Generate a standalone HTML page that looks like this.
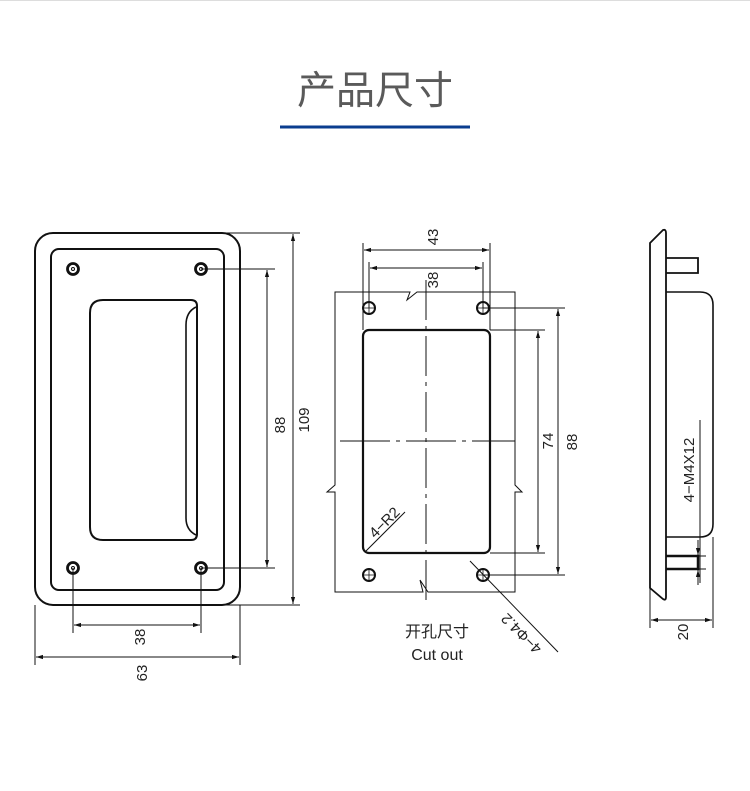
<!DOCTYPE html>
<html><head><meta charset="utf-8"><style>
body{margin:0;background:#fff;width:750px;height:791px;overflow:hidden}
svg{display:block}
text{font-family:"Liberation Sans",sans-serif;fill:#222}
</style></head><body>
<svg width="750" height="791" viewBox="0 0 750 791" xmlns="http://www.w3.org/2000/svg">
<defs>
<marker id="a" viewBox="0 0 10 10" refX="10" refY="5" markerWidth="7" markerHeight="7" orient="auto-start-reverse"><path d="M0,2 L10,5 L0,8 z" fill="#111"/></marker>
</defs>
<line x1="0" y1="0.5" x2="750" y2="0.5" stroke="#ddd"/>
<text x="375" y="104" text-anchor="middle" font-size="39" style="font-family:'Liberation Sans','Noto Sans CJK SC',sans-serif;fill:#5a5a5a">产品尺寸</text>
<rect x="280" y="125.5" width="190" height="3" fill="#0b3d8f"/>

<g fill="none" stroke="#111">
<!-- left view -->
<rect x="35" y="233" width="205" height="372" rx="18" stroke-width="2"/>
<rect x="51" y="249" width="173" height="341" rx="8" stroke-width="2"/>
<g stroke-width="2.8"><circle cx="73" cy="269" r="5.5"/><circle cx="201" cy="269" r="5.5"/><circle cx="73" cy="568" r="5.5"/><circle cx="201" cy="568" r="5.5"/></g>
<g stroke-width="1"><circle cx="73" cy="269" r="1.5"/><circle cx="201" cy="269" r="1.5"/><circle cx="73" cy="568" r="1.5"/><circle cx="201" cy="568" r="1.5"/></g>
<path d="M103,300 H191 Q197,300 197,306 V534 Q197,540 191,540 H103 Q90,540 90,527 V313 Q90,300 103,300 Z" stroke-width="2"/>
<path d="M196,307 Q186,312 186,325 V518 Q186,530 196,535" stroke-width="1.6"/>
<g stroke-width="1">
<line x1="201" y1="269" x2="275" y2="269"/><line x1="201" y1="568" x2="275" y2="568"/>
<line x1="267" y1="270" x2="267" y2="567" marker-start="url(#a)" marker-end="url(#a)"/>
<line x1="224" y1="233" x2="300" y2="233"/><line x1="224" y1="605" x2="300" y2="605"/>
<line x1="293" y1="234" x2="293" y2="604" marker-start="url(#a)" marker-end="url(#a)"/>
<line x1="73" y1="568" x2="73" y2="633"/><line x1="201" y1="568" x2="201" y2="633"/>
<line x1="74" y1="625" x2="200" y2="625" marker-start="url(#a)" marker-end="url(#a)"/>
<line x1="35" y1="605" x2="35" y2="665"/><line x1="240" y1="605" x2="240" y2="665"/>
<line x1="36" y1="657" x2="239" y2="657" marker-start="url(#a)" marker-end="url(#a)"/>
</g>

<!-- middle view -->
<g stroke-width="1">
<path d="M335,292 H410 L407,300 L417,292 H515 V485 L522,492 L515,492 V592 H428 L420,580 L423,592 H335 V492 L327,492 L335,485 Z"/>
<line x1="426" y1="280" x2="426" y2="600" stroke-dasharray="40,6,4,6"/>
<line x1="340" y1="441" x2="515" y2="441" stroke-dasharray="50,6,4,6"/>
<line x1="363" y1="243" x2="363" y2="330"/><line x1="490" y1="243" x2="490" y2="330"/>
<line x1="364" y1="250" x2="489" y2="250" marker-start="url(#a)" marker-end="url(#a)"/>
<line x1="369" y1="262" x2="369" y2="308"/><line x1="483" y1="262" x2="483" y2="308"/>
<line x1="370" y1="268" x2="482" y2="268" marker-start="url(#a)" marker-end="url(#a)"/>
<line x1="490" y1="330" x2="545" y2="330"/><line x1="490" y1="553" x2="545" y2="553"/>
<line x1="538" y1="331" x2="538" y2="552" marker-start="url(#a)" marker-end="url(#a)"/>
<line x1="483" y1="308" x2="565" y2="308"/><line x1="483" y1="575" x2="565" y2="575"/>
<line x1="558" y1="309" x2="558" y2="574" marker-start="url(#a)" marker-end="url(#a)"/>
<line x1="470" y1="561" x2="558" y2="652"/>
<line x1="366" y1="551" x2="405" y2="512"/>
</g>
<rect x="363" y="330" width="127" height="223" rx="6" stroke-width="2.2"/>
<g stroke-width="2"><circle cx="369" cy="308" r="6"/><circle cx="483" cy="308" r="6"/><circle cx="369" cy="575" r="6"/><circle cx="483" cy="575" r="6"/></g>
<g stroke-width="0.8"><path d="M362,308H376M369,301V315M476,308H490M483,301V315M362,575H376M369,568V582M476,575H490M483,568V582"/></g>

<!-- right view -->
<path d="M650,243 L663,230 Q666,229 666,233 V597 Q666,601 663,599 L650,588 Z" stroke-width="1.8"/>
<path d="M666,258 H698 V273 H666" stroke-width="1.8"/>
<path d="M666,292 H700 Q713,292 713,305 V524 Q713,537 700,537 H666" stroke-width="1.6"/>
<path d="M666,556 H698 V569 H666" stroke-width="2.5"/>
<g stroke-width="1">
<line x1="700" y1="420" x2="700" y2="583"/>
<line x1="698" y1="556" x2="706" y2="556"/><line x1="698" y1="569" x2="706" y2="569"/>
<line x1="698" y1="540" x2="698" y2="555" marker-end="url(#a)"/>
<line x1="698" y1="585" x2="698" y2="570" marker-end="url(#a)"/>
<line x1="650" y1="588" x2="650" y2="628"/><line x1="713" y1="537" x2="713" y2="628"/>
<line x1="651" y1="620" x2="712" y2="620" marker-start="url(#a)" marker-end="url(#a)"/>
</g>
</g>

<g font-size="15">
<text transform="translate(285,425) rotate(-90)" text-anchor="middle">88</text>
<text transform="translate(309,420) rotate(-90)" text-anchor="middle">109</text>
<text transform="translate(145,637) rotate(-90)" text-anchor="middle">38</text>
<text transform="translate(147,673) rotate(-90)" text-anchor="middle">63</text>
<text transform="translate(438,237) rotate(-90)" text-anchor="middle">43</text>
<text transform="translate(438,280) rotate(-90)" text-anchor="middle">38</text>
<text transform="translate(553,441) rotate(-90)" text-anchor="middle">74</text>
<text transform="translate(577,442) rotate(-90)" text-anchor="middle">88</text>
<text transform="translate(388,526) rotate(-45)" text-anchor="middle">4−R2</text>
<text transform="translate(525,630) rotate(225)" text-anchor="middle">4−Φ4.2</text>
<text transform="translate(694,470) rotate(-90)" text-anchor="middle">4−M4X12</text>
<text transform="translate(688,632) rotate(-90)" text-anchor="middle">20</text>
<text x="437" y="637" text-anchor="middle" font-size="16" style="font-family:'Liberation Sans','Noto Sans CJK SC',sans-serif">开孔尺寸</text>
<text x="437" y="660" text-anchor="middle" font-size="16">Cut out</text>
</g>
</svg>
</body></html>
